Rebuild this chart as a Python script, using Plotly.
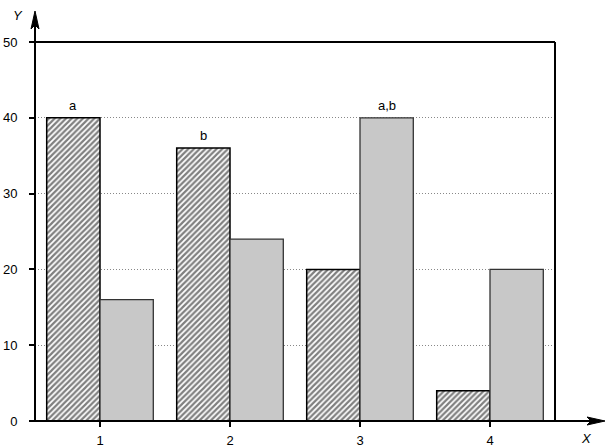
import plotly.graph_objects as go

categories = [1, 2, 3, 4]
hatched_values = [40, 36, 20, 4]
gray_values = [16, 24, 40, 20]
y_ticks = [0, 10, 20, 30, 40, 50]
labels = [("a", 1, 0, 40), ("b", 2, 0, 36), ("a,b", 3, 1, 40)]

W, H = 610, 448
L, R, T, B = 35, 55, 42, 27
PW = W - L - R
PH = H - T - B

def px(x):
    return (x - L) / PW

def py(y):
    return (H - B - y) / PH

fig = go.Figure()
fig.add_trace(go.Bar(
    x=categories, y=hatched_values,
    marker=dict(color="white", line=dict(color="black", width=1.5),
                pattern=dict(shape="/", size=4, solidity=0.55, fgcolor="black", bgcolor="white")),
    showlegend=False,
))
fig.add_trace(go.Bar(
    x=categories, y=gray_values,
    marker=dict(color="#c8c8c8", line=dict(color="#333333", width=1.3)),
    showlegend=False,
))

font = dict(family="Liberation Sans, Arial, sans-serif", size=13, color="black")
off = 0.205
for txt, cat, s, val in labels:
    fig.add_annotation(x=cat + (-off if s == 0 else off), y=val, text=txt, showarrow=False,
                       yanchor="bottom", yshift=3, font=font)

line = dict(color="black", width=2)
shapes = [
    dict(type="line", xref="paper", yref="paper", x0=px(30), x1=1, y0=1, y1=1, line=line),
    dict(type="line", xref="paper", yref="paper", x0=1, x1=1, y0=0, y1=1, line=line),
    dict(type="line", xref="paper", yref="paper", x0=0, x1=0, y0=0, y1=py(20), line=line),
    dict(type="line", xref="paper", yref="paper", x0=px(30), x1=px(595), y0=0, y1=0, line=line),
    dict(type="path", xref="paper", yref="paper",
         path=f"M {px(35)} {py(11)} L {px(31)} {py(29)} L {px(35)} {py(25)} L {px(39)} {py(29)} Z",
         fillcolor="black", line=dict(color="black", width=1)),
    dict(type="path", xref="paper", yref="paper",
         path=f"M {px(605)} {py(421)} L {px(587)} {py(417)} L {px(591)} {py(421)} L {px(587)} {py(425)} Z",
         fillcolor="black", line=dict(color="black", width=1)),
]
fig.update_layout(shapes=shapes)

fig.add_annotation(xref="paper", yref="paper", x=px(18), y=py(16), text="<i>Y</i>",
                   xanchor="center", yanchor="middle", showarrow=False, font=font)
fig.add_annotation(xref="paper", yref="paper", x=px(586), y=py(438), text="<i>X</i>",
                   xanchor="center", yanchor="middle", showarrow=False, font=font)

fig.update_layout(
    width=W, height=H,
    margin=dict(l=L, r=R, t=T, b=B, pad=0, autoexpand=False),
    paper_bgcolor="white", plot_bgcolor="white",
    barmode="group", bargap=0.18, bargroupgap=0,
    font=font,
    xaxis=dict(range=[0.5, 4.5], tickmode="array", tickvals=categories,
               ticktext=[str(c) for c in categories], automargin=False,
               ticks="outside", ticklen=5, tickwidth=1.5, tickcolor="black",
               ticklabelstandoff=2,
               showgrid=False, zeroline=False, showline=False, fixedrange=True),
    yaxis=dict(range=[0, 50], tickmode="array", tickvals=y_ticks,
               ticktext=[str(v) for v in y_ticks], automargin=False,
               ticks="outside", ticklen=5, tickwidth=1.5, tickcolor="black",
               ticklabelstandoff=9,
               showgrid=True, gridcolor="#888888", griddash="1px,2px", gridwidth=1,
               zeroline=False, showline=False, fixedrange=True),
)

fig.write_html("out.html", config={"displayModeBar": False},
               post_script="document.body.style.margin='0';document.body.style.overflow='hidden';")
